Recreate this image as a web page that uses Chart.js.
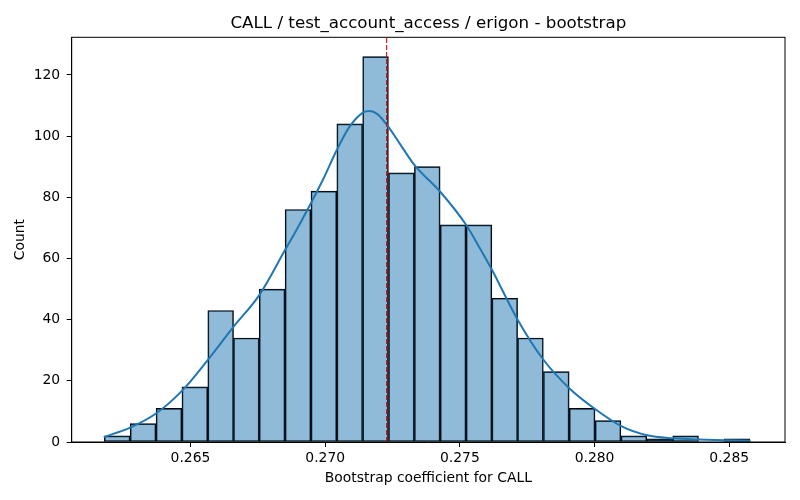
<!DOCTYPE html>
<html lang="en">
<head>
  <meta charset="UTF-8" />
  <title>CALL / test_account_access / erigon - bootstrap</title>
  <script src="https://cdn.jsdelivr.net/npm/chart.js"></script>
  <style>
    html, body { margin: 0; padding: 0; background: #fff; }
    canvas { display: block; }
  </style>
</head>
<body>
  <canvas id="hist" width="800" height="500"></canvas>

  <script>
    // histogram bin edges (25 bins) and counts
    const binEdges = [0.26180, 0.26276, 0.26372, 0.26468, 0.26564, 0.26660, 0.26755,
      0.26851, 0.26947, 0.27043, 0.27139, 0.27235, 0.27331, 0.27427, 0.27523, 0.27619,
      0.27714, 0.27810, 0.27906, 0.28002, 0.28098, 0.28194, 0.28290, 0.28386, 0.28481, 0.28577]
    const counts = [2, 6, 11, 18, 43, 34, 50, 76, 82, 104, 126, 88, 90, 71, 71, 47, 34, 23, 11, 7, 2, 1, 2, 0, 1]

    // kde curve
    const kdeX = [0.26178, 0.26276, 0.26372, 0.26468, 0.26564, 0.26660, 0.26756, 0.26852,
      0.26894, 0.26948, 0.26992, 0.27044, 0.27090, 0.27140, 0.27164, 0.27194, 0.27228,
      0.27275, 0.27331, 0.27427, 0.27523, 0.27570, 0.27619, 0.27715, 0.27811, 0.27907,
      0.28003, 0.28099, 0.28195, 0.28291, 0.28387, 0.28483, 0.28579]
    const kdeY = [1.6, 4.7, 9.3, 16.7, 26.8, 37.7, 48.1, 62.9,
      69.4, 78.2, 85.8, 95.6, 103.0, 107.7, 108.2, 107.2, 103.8,
      97.8, 90.6, 81.8, 71.0, 64.0, 56.3, 39.9, 26.8, 17.5,
      10.7, 5.2, 2.2, 1.2, 0.8, 0.6, 0.4]

    const meanValue = 0.27228
    const xTicks = [0.265, 0.270, 0.275, 0.280, 0.285]
    const yTicks = [0, 20, 40, 60, 80, 100, 120]
    const xMin = 0.26059, xMax = 0.28707
    const yMax = 132.3
    const titleText = 'CALL / test_account_access / erigon - bootstrap'

    const font = 'DejaVu Sans'
    const tickFont = { family: font, size: 13.9 }

    const bars = counts.map((c, i) => ({ x: (binEdges[i] + binEdges[i + 1]) / 2, y: c }))
    const kde = kdeX.map((x, i) => ({ x: x, y: kdeY[i] }))

    // top/right spines and a title centred over the plot area (like matplotlib)
    const frame = {
      id: 'frame',
      afterDatasetsDraw(chart) {
        const { ctx, chartArea: a } = chart
        ctx.save()
        ctx.strokeStyle = '#000'
        ctx.lineWidth = 1
        ctx.strokeRect(a.left, a.top, a.right - a.left, a.bottom - a.top)
        ctx.fillStyle = '#000'
        ctx.font = '16.7px "DejaVu Sans"'
        ctx.textAlign = 'center'
        ctx.textBaseline = 'alphabetic'
        ctx.fillText(titleText, (a.left + a.right) / 2, 27.5)
        ctx.restore()
      }
    }

    new Chart(document.getElementById('hist'), {
      data: {
        datasets: [
          {
            type: 'bar',
            data: bars,
            backgroundColor: 'rgba(31, 119, 180, 0.5)',
            borderColor: '#000',
            borderWidth: 1,
            borderSkipped: false,
            barPercentage: 1,
            categoryPercentage: 1,
            order: 3
          },
          {
            type: 'line',
            data: kde,
            borderColor: '#1f77b4',
            borderWidth: 2,
            pointRadius: 0,
            cubicInterpolationMode: 'monotone',
            fill: false,
            order: 2
          },
          {
            type: 'line',
            data: [{ x: meanValue, y: 0 }, { x: meanValue, y: yMax }],
            borderColor: 'rgba(230, 0, 0, 0.9)',
            borderWidth: 1.2,
            borderDash: [5, 2],
            pointRadius: 0,
            fill: false,
            order: 1
          }
        ]
      },
      options: {
        responsive: false,
        animation: false,
        layout: { padding: { left: 0, right: 15, top: 37.3, bottom: 0 } },
        plugins: {
          legend: { display: false },
          tooltip: { enabled: false },
          title: { display: false }
        },
        scales: {
          x: {
            type: 'linear',
            min: xMin,
            max: xMax,
            offset: false,
            afterBuildTicks: s => { s.ticks = xTicks.map(v => ({ value: v })) },
            afterFit: s => { s.height = 58 },
            ticks: {
              color: '#000',
              font: tickFont,
              padding: 3,
              maxRotation: 0,
              callback: v => v.toFixed(3)
            },
            grid: { offset: false, drawOnChartArea: false, drawTicks: true, tickLength: 5, tickColor: '#000', tickWidth: 1 },
            border: { color: '#000', width: 1 },
            title: {
              display: true,
              text: 'Bootstrap coefficient for CALL',
              color: '#000',
              font: tickFont,
              padding: { top: 0, bottom: 13 }
            }
          },
          y: {
            min: 0,
            max: yMax,
            afterBuildTicks: s => { s.ticks = yTicks.map(v => ({ value: v })) },
            afterFit: s => { s.width = 71.7 },
            ticks: { color: '#000', font: tickFont, padding: 6.5 },
            grid: { drawOnChartArea: false, tickLength: 5, tickColor: '#000', tickWidth: 1 },
            border: { color: '#000', width: 1 },
            title: {
              display: true,
              text: 'Count',
              color: '#000',
              font: tickFont,
              padding: { top: 12, bottom: 0 }
            }
          }
        }
      },
      plugins: [frame]
    })
  </script>
</body>
</html>
